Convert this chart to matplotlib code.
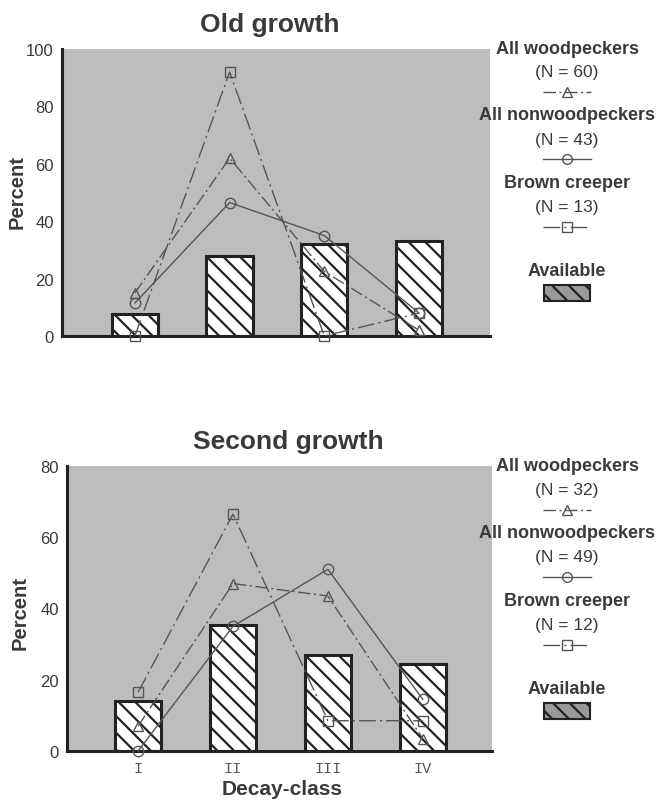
# Decay-class use vs. availability, old growth and second growth
import matplotlib
matplotlib.use('Agg')
import matplotlib.pyplot as plt
from matplotlib.patches import Rectangle
from matplotlib.lines import Line2D

plt.rcParams['font.family'] = ['Liberation Sans', 'DejaVu Sans']
plt.rcParams['hatch.linewidth'] = 1.6

categories = ['I', 'II', 'III', 'IV']

old_avail = [7.5, 28, 32, 33]
old_wood = [15, 62, 22.5, 2]
old_nonwood = [11.5, 46.5, 35, 8]
old_creeper = [0, 92, 0, 8]
old_n = [60, 43, 13]

second_avail = [14, 35.5, 27, 24.5]
second_wood = [7, 47, 43.5, 3.5]
second_nonwood = [0, 35, 51, 14.5]
second_creeper = [16.5, 66.5, 8.5, 8.5]
second_n = [32, 49, 12]

W, H = 657, 803
BG = '#bdbdbd'
INK = '#3a3a3a'
LINE = '#555555'

series_style = [
    dict(marker='^', linestyle=(0, (9, 2.5, 1.5, 2.5))),
    dict(marker='o', linestyle='-'),
    dict(marker='s', linestyle=(0, (12, 3, 1.5, 3))),
]
series_names = ['All woodpeckers', 'All nonwoodpeckers', 'Brown creeper']

fig = plt.figure(figsize=(W / 100, H / 100), dpi=100)


def fy(py):
    return 1 - py / H


def fx(px):
    return px / W


def panel(rect, xlim, ymax, yticks, avail, lines, title, title_xy, ylab_xy, show_x):
    ax = fig.add_axes(rect)
    ax.set_facecolor(BG)
    x = list(range(1, len(categories) + 1))
    ax.bar(x, avail, width=0.49, color='white', edgecolor='#222222',
           linewidth=2.2, hatch='\\\\', zorder=2)
    for vals, st in zip(lines, series_style):
        ax.plot(x, vals, color=LINE, linewidth=1.0, markersize=7.5,
                markerfacecolor='none', markeredgecolor=LINE,
                markeredgewidth=1.0, clip_on=False, zorder=3, **st)
    ax.set_xlim(*xlim)
    ax.set_ylim(0, ymax)
    ax.set_yticks(yticks)
    ax.tick_params(axis='y', length=0, pad=6, labelsize=12, labelcolor=INK)
    ax.set_xticks(x)
    if show_x:
        ax.set_xticklabels(categories, family='Liberation Mono', fontsize=11,
                           color='#555555')
        ax.tick_params(axis='x', length=0, pad=7)
    else:
        ax.set_xticklabels([])
        ax.tick_params(axis='x', length=0)
    for s in ['top', 'right']:
        ax.spines[s].set_visible(False)
    for s in ['left', 'bottom']:
        ax.spines[s].set_linewidth(2.2)
        ax.spines[s].set_color('#222222')
    fig.text(fx(title_xy[0]), fy(title_xy[1]), title, ha='center', va='center',
             fontsize=19, fontweight='bold', color=INK)
    fig.text(fx(ylab_xy[0]), fy(ylab_xy[1]), 'Percent', ha='center', va='center',
             rotation=90, fontsize=14.5, fontweight='bold', color=INK)
    return ax


def legend(top, ns):
    cx = 567
    offs = [0, 67, 135]
    for i, (name, n, st) in enumerate(zip(series_names, ns, series_style)):
        y0 = top + offs[i]
        fig.text(fx(cx), fy(y0), name, ha='center', va='center',
                 fontsize=13, fontweight='bold', color=INK)
        fig.text(fx(cx), fy(y0 + 24), '(N = %d)' % n, ha='center', va='center',
                 fontsize=12.5, color=INK)
        ly = fy(y0 + 44)
        fig.add_artist(Line2D([fx(cx - 24), fx(cx), fx(cx + 24)], [ly, ly, ly],
                              color=LINE, linewidth=1.0, markersize=7,
                              markerfacecolor='none', markeredgecolor=LINE,
                              markevery=[1], transform=fig.transFigure, **st))
    fig.text(fx(cx), fy(top + 223), 'Available', ha='center', va='center',
             fontsize=13, fontweight='bold', color=INK)
    fig.add_artist(Rectangle((fx(cx - 23), fy(top + 253)), fx(46), 16 / H,
                             facecolor='#9a9a9a', edgecolor='#222222',
                             linewidth=1.5, hatch='\\\\',
                             transform=fig.transFigure))


panel([fx(62), fy(337), fx(490 - 62), (337 - 50) / H], (0.23, 4.75), 100,
      [0, 20, 40, 60, 80, 100], old_avail,
      [old_wood, old_nonwood, old_creeper],
      'Old growth', (270, 25), (17, 192), False)
legend(49, old_n)

ax2 = panel([fx(67), fy(752), fx(492 - 67), (752 - 467) / H], (0.25, 4.73), 80,
            [0, 20, 40, 60, 80], second_avail,
            [second_wood, second_nonwood, second_creeper],
            'Second growth', (288, 442), (20, 613), True)
fig.text(fx(282), fy(790), 'Decay-class', ha='center', va='center',
         fontsize=15, fontweight='bold', color=INK)
legend(467, second_n)

fig.savefig('out.png', dpi=100, facecolor='white')
